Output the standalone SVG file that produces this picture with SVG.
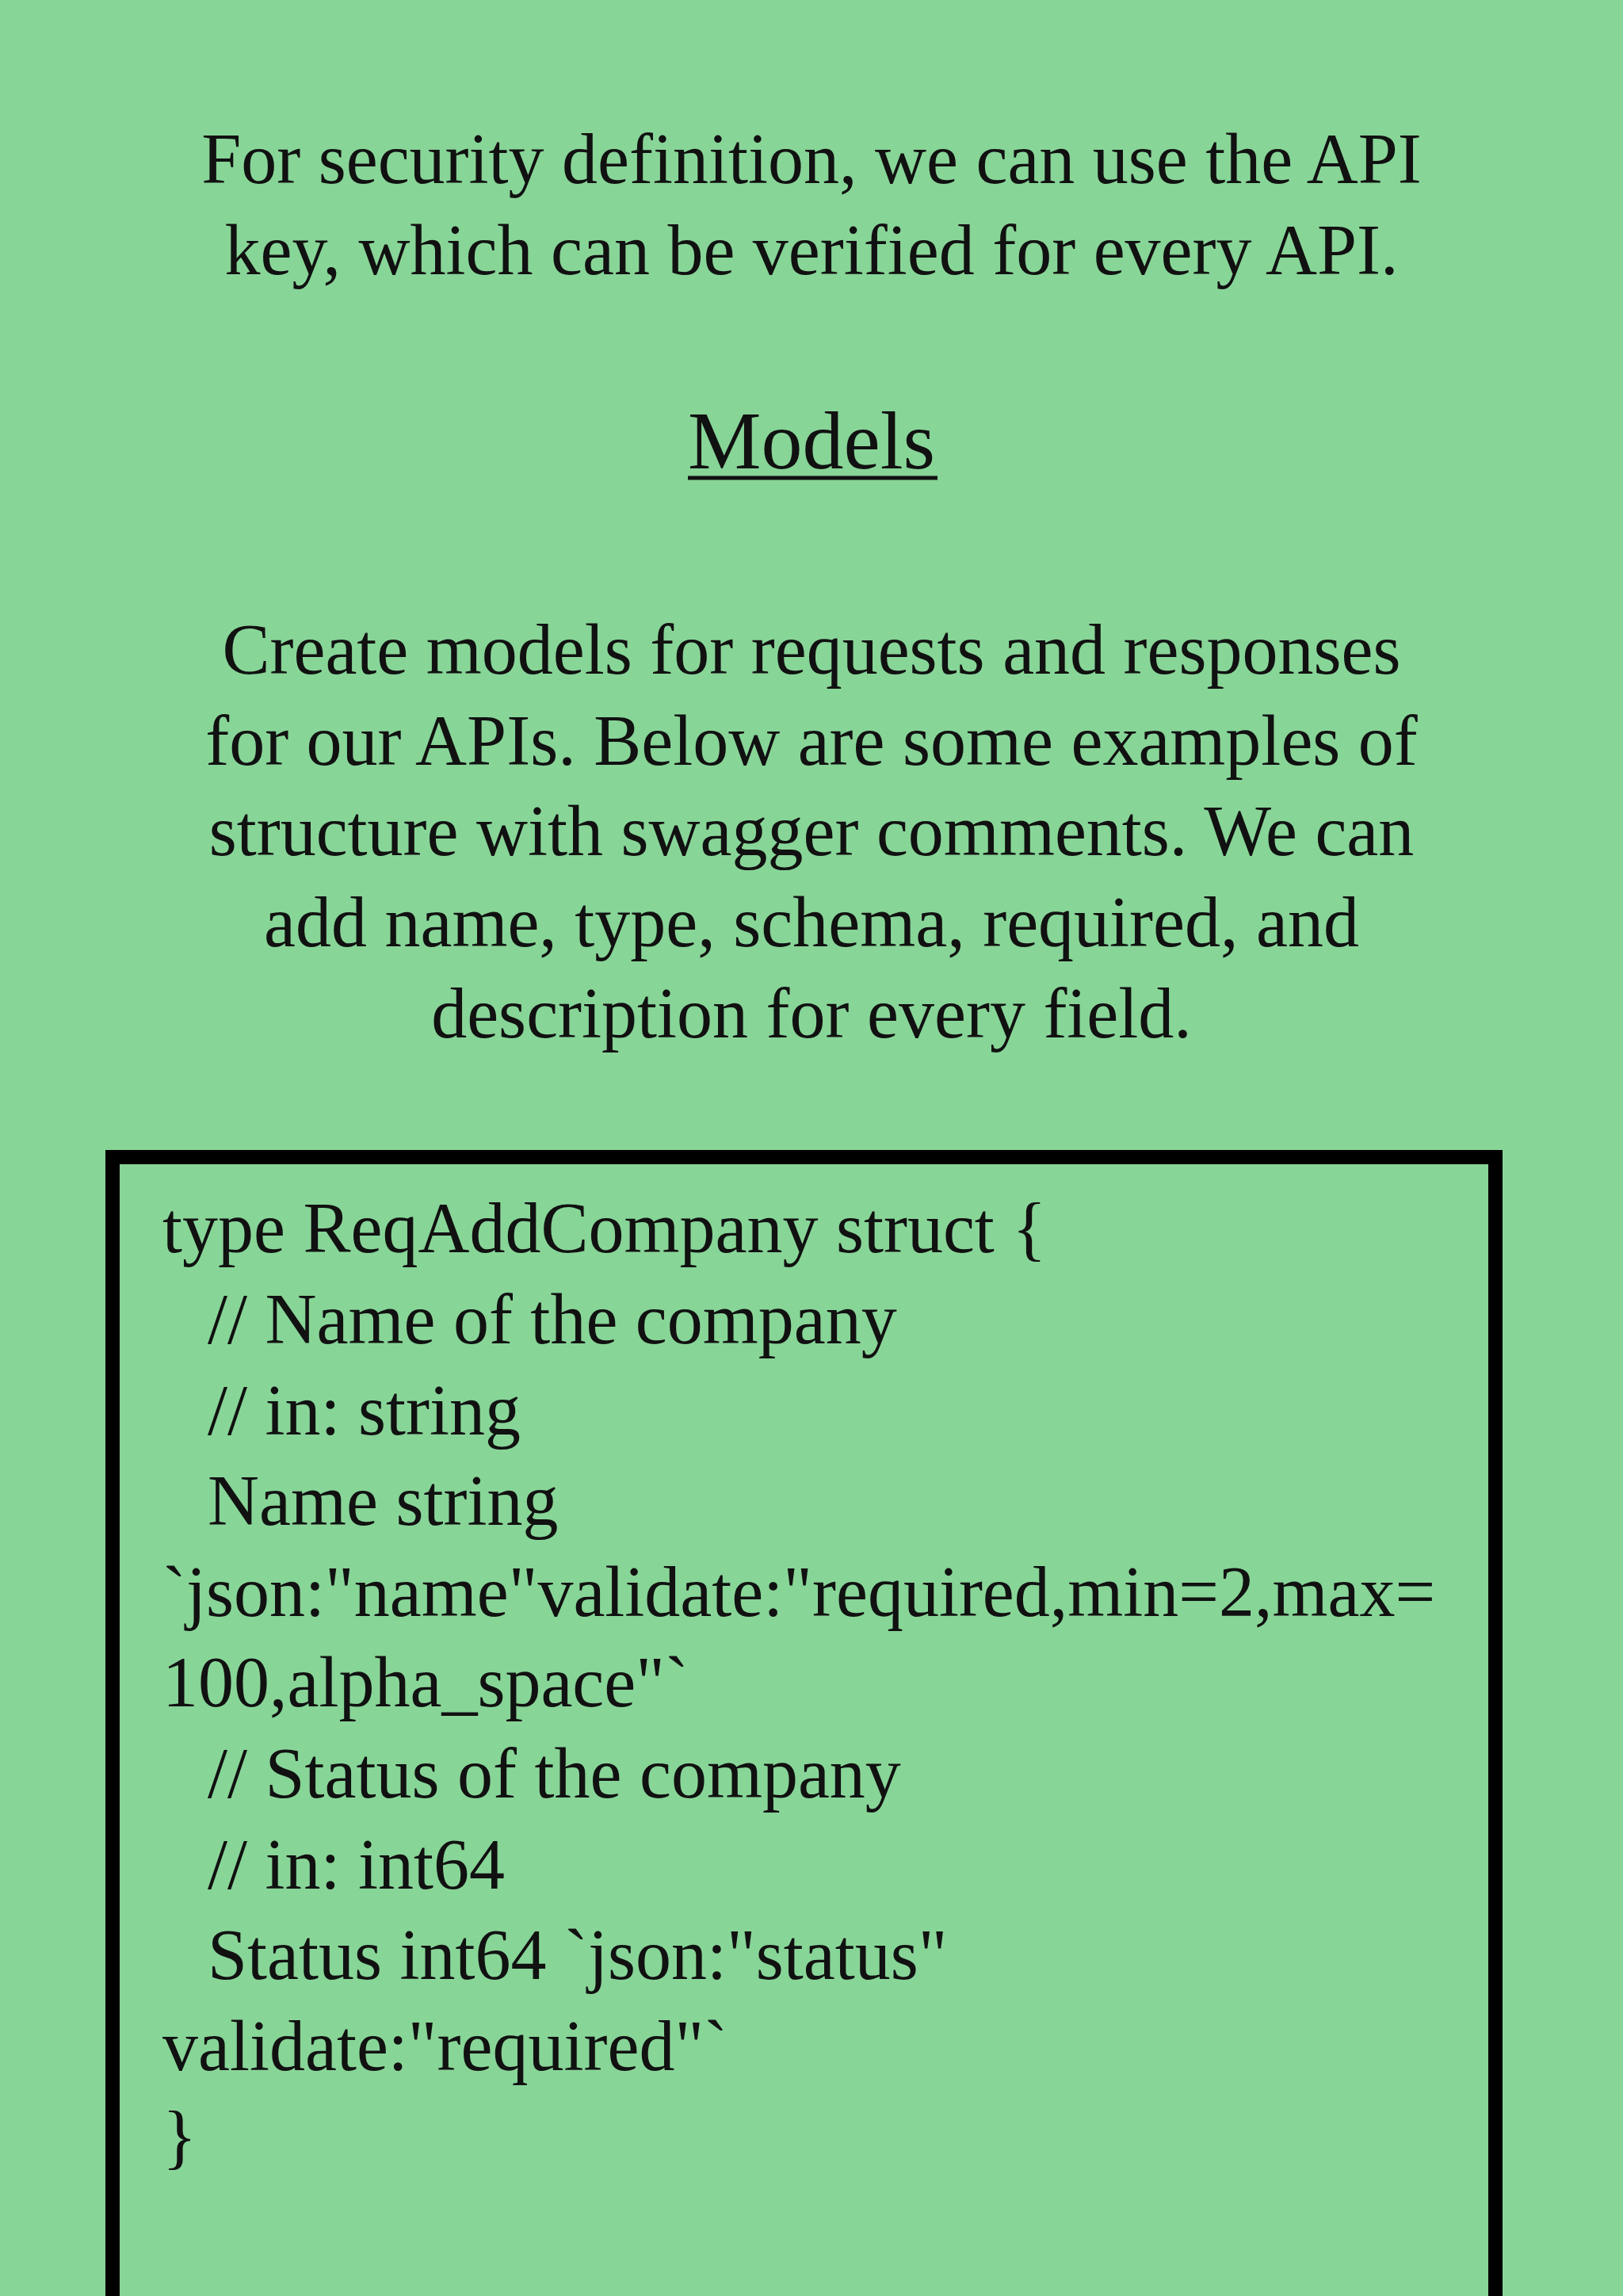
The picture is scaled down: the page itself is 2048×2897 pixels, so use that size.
<svg xmlns="http://www.w3.org/2000/svg" width="2048" height="2897" viewBox="0 0 2048 2897">
<style>
.t{font-family:"Liberation Serif","DejaVu Serif",serif;font-size:90px;fill:#111}
.c{text-anchor:middle}
</style>
<rect width="2048" height="2897" fill="#88d598"/>
<g id="intro">
<text class="t c" x="1024" y="231">For security definition, we can use the API</text>
<text class="t c" x="1024" y="346">key, which can be verified for every API.</text>
</g>
<g id="heading">
<text class="t c" x="1024" y="591" style="font-size:104px">Models</text>
<line x1="868" y1="603" x2="1183" y2="603" stroke="#111" stroke-width="5"/>
</g>
<g id="para">
<text class="t c" x="1024" y="850">Create models for requests and responses</text>
<text class="t c" x="1024" y="965">for our APIs. Below are some examples of</text>
<text class="t c" x="1024" y="1079">structure with swagger comments. We can</text>
<text class="t c" x="1024" y="1194">add name, type, schema, required, and</text>
<text class="t c" x="1024" y="1309">description for every field.</text>
</g>
<g id="codebox">
<rect x="142" y="1460" width="1745" height="1500" fill="none" stroke="#000" stroke-width="18"/>
<text class="t" x="205" y="1580">type ReqAddCompany struct {</text>
<text class="t" x="262" y="1695">// Name of the company</text>
<text class="t" x="262" y="1810">// in: string</text>
<text class="t" x="262" y="1924">Name string</text>
<text class="t" x="205" y="2039">`json:"name"validate:"required,min=2,max=</text>
<text class="t" x="205" y="2153">100,alpha_space"`</text>
<text class="t" x="262" y="2268">// Status of the company</text>
<text class="t" x="262" y="2383">// in: int64</text>
<text class="t" x="262" y="2497">Status int64 `json:"status"</text>
<text class="t" x="205" y="2612">validate:"required"`</text>
<text class="t" x="205" y="2726">}</text>
</g>
</svg>
